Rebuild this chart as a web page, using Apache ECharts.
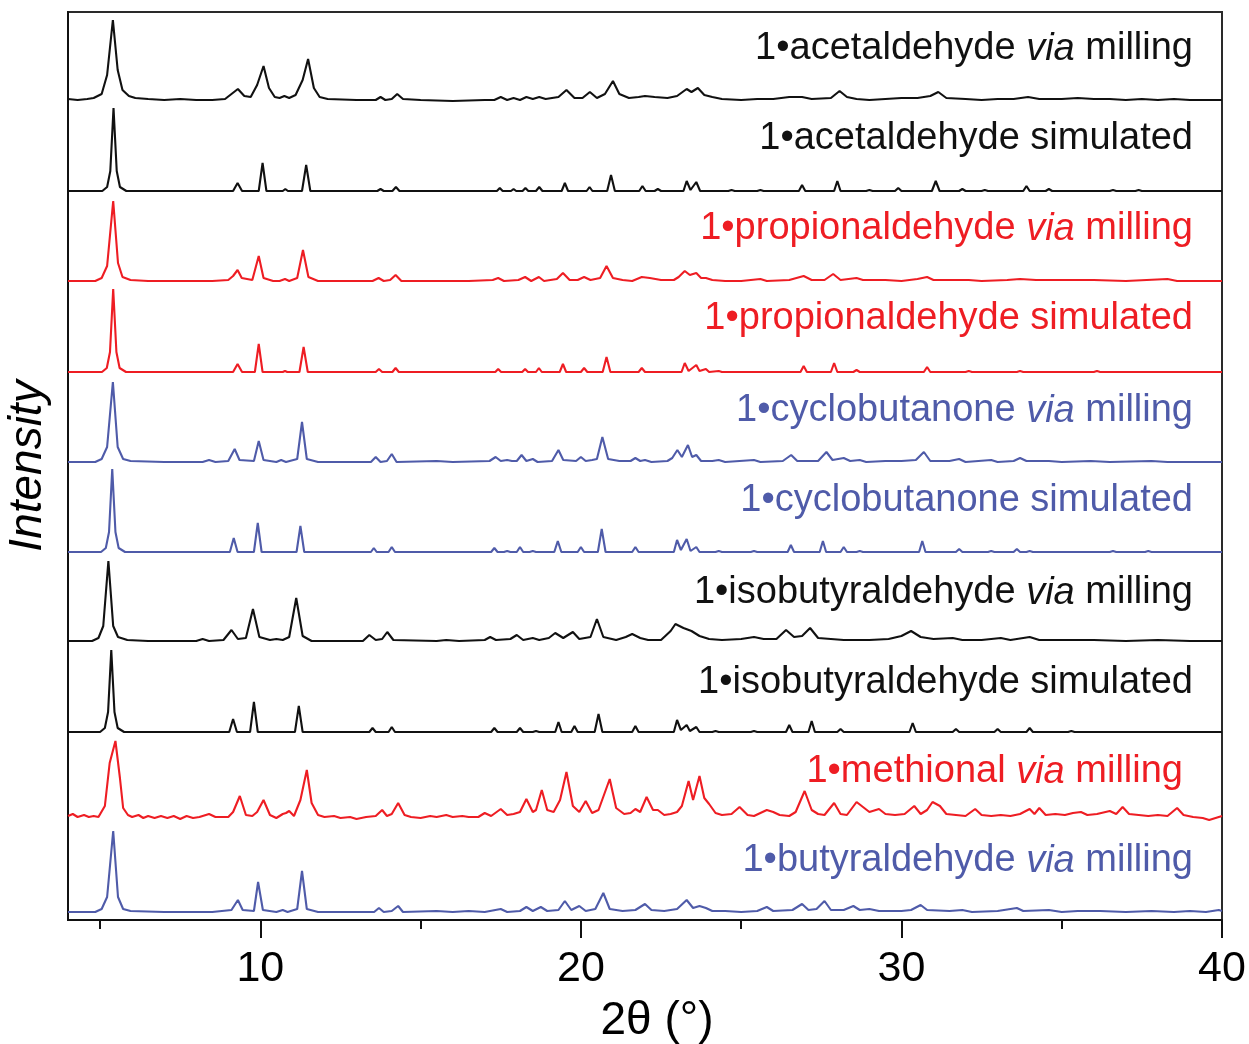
<!DOCTYPE html>
<html>
<head>
<meta charset="utf-8">
<script src="https://cdn.jsdelivr.net/npm/echarts@6/dist/echarts.min.js"></script>
<style>
  html, body { margin: 0; padding: 0; background: #fff; }
  #chart { width: 1249px; height: 1044px; }
</style>
</head>
<body>
<div id="chart"></div>
<script>
// Powder XRD patterns, 2θ in degrees vs. intensity (a.u.), stacked top to bottom.

const xTicks = [10, 20, 30, 40];
const xMinorTicks = [5, 15, 25, 35];

const names = [
  ['1•acetaldehyde ', 'via', ' milling'],
  ['1•acetaldehyde simulated'],
  ['1•propionaldehyde ', 'via', ' milling'],
  ['1•propionaldehyde simulated'],
  ['1•cyclobutanone ', 'via', ' milling'],
  ['1•cyclobutanone simulated'],
  ['1•isobutyraldehyde ', 'via', ' milling'],
  ['1•isobutyraldehyde simulated'],
  ['1•methional ', 'via', ' milling'],
  ['1•butyraldehyde ', 'via', ' milling']
];

const colors = ['#111111', '#111111', '#EE1D23', '#EE1D23', '#4F5BA9', '#4F5BA9',
  '#111111', '#111111', '#EE1D23', '#4F5BA9'];

// vertical stacking offset of each pattern
const offsets = [820, 729, 639, 548, 458, 368, 279, 188, 102, 8];

const acetaldehydeMilled = [[4,1],[4.3,0],[4.6,1],[4.8,2],[5.05,6],[5.22,25],[5.4,80],[5.55,30],[5.7,10],[5.9,4],[6.1,2],[6.5,1],[7.0,0],[7.5,1],[8.0,0],[8.5,0],[8.9,1],[9.1,6],[9.3,11],[9.5,4],[9.7,3],[9.9,15],[10.1,34],[10.27,12],[10.45,3],[10.6,2],[10.75,4],[10.9,2],[11.1,5],[11.32,20],[11.49,41],[11.67,12],[11.85,3],[12.1,1],[13,0],[13.6,0],[13.75,3],[13.9,0],[14.1,1],[14.27,6],[14.45,1],[15,0],[16,-1],[17,0],[17.3,0],[17.5,3],[17.7,0],[17.9,2],[18.1,0],[18.3,3],[18.5,1],[18.7,3],[18.9,1],[19.3,3],[19.55,10],[19.8,2],[20.05,2],[20.28,8],[20.5,2],[20.75,6],[21.0,19],[21.2,6],[21.5,2],[21.8,3],[22.0,4],[22.3,3],[22.7,2],[23.0,4],[23.3,11],[23.45,8],[23.65,12],[23.85,5],[24.1,3],[24.4,1],[25,0],[25.5,1],[26.0,1],[26.5,3],[26.9,3],[27.2,1],[27.8,2],[28.07,9],[28.3,3],[28.6,1],[29.0,0],[29.5,1],[30.0,2],[30.5,2],[30.9,4],[31.15,8],[31.4,2],[32,1],[32.5,0],[33,1],[33.5,1],[33.95,3],[34.3,1],[35,1],[35.5,2],[36,1],[36.5,1],[37,0],[37.5,1],[38,0],[38.5,1],[39,0],[39.5,0],[40,0]];

const acetaldehydeSim = [[4,0],[5.07,0],[5.22,4],[5.32,20],[5.42,83],[5.52,20],[5.62,4],[5.82,0],[9.15,0],[9.29,8],[9.43,0],[9.95,0],[10.07,28],[10.19,0],[10.7,0],[10.78,2],[10.86,0],[11.3,0],[11.43,26],[11.56,0],[13.65,0],[13.75,2],[13.85,0],[14.12,0],[14.23,4],[14.34,0],[14.8,0],[14.85,1],[14.9,0],[17.38,0],[17.47,3],[17.56,0],[17.82,0],[17.9,2],[17.98,0],[18.18,0],[18.27,3],[18.36,0],[18.6,0],[18.7,4],[18.8,0],[19.4,0],[19.5,8],[19.6,0],[20.18,0],[20.27,4],[20.36,0],[20.82,0],[20.94,16],[21.06,0],[21.82,0],[21.92,5],[22.02,0],[22.3,0],[22.4,2],[22.5,0],[23.2,0],[23.3,10],[23.42,1],[23.6,9],[23.72,0],[24.6,0],[24.7,1],[24.8,0],[25.5,0],[25.6,1],[25.7,0],[26.8,0],[26.9,6],[27.0,0],[27.9,0],[28.0,10],[28.1,0],[28.9,0],[29.0,1],[29.1,0],[29.8,0],[29.9,3],[30.0,0],[30.95,0],[31.07,10],[31.19,0],[31.8,0],[31.9,2],[32.0,0],[32.5,0],[32.6,1],[32.7,0],[33.8,0],[33.9,5],[34.0,0],[34.5,0],[34.6,2],[34.7,0],[36.5,0],[36.6,1],[36.7,0],[37.3,0],[37.4,1],[37.5,0],[40,0]];

const propionaldehydeMilled = [[4,0],[4.85,0],[5.05,3],[5.22,15],[5.41,80],[5.56,18],[5.7,4],[5.95,1],[6.5,0],[7.5,0],[8.5,0],[9.0,1],[9.15,5],[9.29,11],[9.42,3],[9.75,1],[9.95,25],[10.1,3],[10.4,0],[10.6,0],[10.77,2],[10.9,0],[11.15,3],[11.33,31],[11.5,4],[11.8,0],[13.5,0],[13.69,3],[13.85,0],[14.05,1],[14.22,6],[14.4,0],[15.5,0],[16.5,0],[17.25,1],[17.42,3],[17.6,0],[18.05,1],[18.26,4],[18.45,0],[18.69,4],[18.85,0],[19.25,2],[19.44,8],[19.65,1],[19.9,1],[20.1,4],[20.3,1],[20.6,3],[20.8,15],[21.0,3],[21.3,1],[21.6,0],[21.9,4],[22.15,3],[22.5,1],[22.9,1],[23.05,4],[23.24,10],[23.4,6],[23.6,8],[23.75,3],[23.9,3],[24.1,1],[24.5,0],[25,0],[25.6,2],[25.8,0],[26.5,1],[26.95,5],[27.2,1],[27.6,1],[27.87,7],[28.1,1],[28.6,3],[28.8,1],[29.5,1],[30,0],[30.5,2],[30.8,4],[31.0,1],[31.5,1],[32.1,1],[32.5,0],[33.3,1],[33.7,2],[34.2,1],[35,1],[36,1],[37,0],[38.3,2],[38.6,0],[39.5,0],[40,0]];

const propionaldehydeSim = [[4,0],[5.06,0],[5.21,4],[5.31,20],[5.41,83],[5.51,20],[5.61,4],[5.81,0],[9.15,0],[9.29,8],[9.43,0],[9.83,0],[9.95,28],[10.07,0],[10.7,0],[10.77,1],[10.84,0],[11.22,0],[11.35,25],[11.48,0],[13.6,0],[13.7,3],[13.8,0],[14.12,0],[14.22,4],[14.32,0],[17.33,0],[17.42,3],[17.51,0],[18.17,0],[18.26,3],[18.35,0],[18.6,0],[18.69,4],[18.78,0],[19.34,0],[19.44,8],[19.54,0],[20.0,0],[20.1,4],[20.2,0],[20.68,0],[20.8,15],[20.92,0],[21.8,0],[21.9,4],[22.0,0],[23.14,0],[23.24,9],[23.36,1],[23.6,7],[23.7,1],[23.9,3],[24.0,0],[24.3,1],[24.4,0],[26.85,0],[26.95,6],[27.05,0],[27.8,0],[27.9,9],[28.0,0],[28.5,0],[28.6,2],[28.7,0],[30.7,0],[30.8,5],[30.9,0],[32.0,0],[32.1,1],[32.2,0],[33.6,0],[33.7,1],[33.8,0],[36.0,0],[36.1,1],[36.2,0],[40,0]];

const cyclobutanoneMilled = [[4,0],[4.85,0],[5.05,3],[5.22,15],[5.4,80],[5.55,15],[5.72,3],[5.95,1],[7,0],[8.2,0],[8.4,2],[8.6,0],[9.0,1],[9.2,13],[9.35,2],[9.8,1],[9.95,21],[10.1,2],[10.5,0],[10.65,2],[10.8,0],[11.15,3],[11.3,40],[11.45,3],[11.8,0],[13.45,0],[13.6,5],[13.75,0],[13.95,1],[14.1,8],[14.25,0],[15.5,1],[16,0],[17.15,1],[17.34,5],[17.5,1],[17.7,2],[17.85,1],[18.0,1],[18.15,7],[18.3,1],[18.5,3],[18.65,0],[19.1,1],[19.3,12],[19.45,2],[19.85,1],[20.0,5],[20.15,1],[20.35,2],[20.5,3],[20.67,25],[20.85,3],[21.2,1],[21.55,1],[21.7,4],[21.85,1],[22.0,2],[22.2,0],[22.7,1],[22.85,4],[23.01,12],[23.15,5],[23.34,17],[23.47,5],[23.6,7],[23.75,1],[24.1,1],[24.3,2],[24.5,0],[25.4,2],[25.6,0],[26.3,1],[26.56,7],[26.75,1],[27.4,1],[27.66,10],[27.85,2],[28.2,4],[28.4,1],[28.7,2],[28.9,0],[29.5,1],[30.0,1],[30.45,2],[30.7,10],[30.9,1],[31.5,1],[31.8,3],[32.0,0],[32.8,2],[33.0,0],[33.5,1],[33.7,4],[33.9,1],[34.6,1],[35,0],[35.9,1],[36.5,0],[37.8,1],[38.3,0],[39,0],[40,0]];

const cyclobutanoneSim = [[4,0],[5.03,0],[5.18,4],[5.28,20],[5.38,83],[5.48,20],[5.58,4],[5.78,0],[9.05,0],[9.17,14],[9.29,0],[9.8,0],[9.92,29],[10.04,0],[11.13,0],[11.25,26],[11.37,0],[13.45,0],[13.54,4],[13.63,0],[14.0,0],[14.1,5],[14.2,0],[17.2,0],[17.3,4],[17.4,0],[17.6,0],[17.7,1],[17.8,0],[18.0,0],[18.1,5],[18.2,0],[18.4,0],[18.5,1],[18.6,0],[19.17,0],[19.28,11],[19.39,0],[19.9,0],[20.0,5],[20.1,0],[20.53,0],[20.65,23],[20.77,0],[21.6,0],[21.7,5],[21.8,0],[22.9,0],[23.0,12],[23.12,2],[23.3,13],[23.42,1],[23.6,5],[23.7,0],[24.2,0],[24.3,1],[24.4,0],[25.3,0],[25.4,1],[25.5,0],[26.45,0],[26.55,7],[26.65,0],[27.45,0],[27.55,11],[27.65,0],[28.1,0],[28.2,5],[28.3,0],[28.6,0],[28.7,1],[28.8,0],[30.55,0],[30.65,11],[30.75,0],[31.7,0],[31.8,3],[31.9,0],[32.7,0],[32.8,1],[32.9,0],[33.5,0],[33.6,3],[33.7,0],[33.9,0],[34.0,1],[34.1,0],[36.5,0],[36.6,1],[36.7,0],[37.6,0],[37.7,1],[37.8,0],[40,0]];

const isobutyraldehydeMilled = [[4,0],[4.75,0],[4.95,3],[5.1,15],[5.26,80],[5.41,15],[5.56,4],[5.85,1],[6.5,0],[7.5,0],[8.0,0],[8.2,2],[8.4,0],[8.85,1],[9.1,11],[9.3,2],[9.55,3],[9.77,32],[9.97,4],[10.3,1],[10.5,2],[10.7,1],[10.9,4],[11.12,43],[11.32,5],[11.6,0],[13.2,0],[13.4,6],[13.6,1],[13.8,2],[13.96,9],[14.15,1],[15.5,0],[15.8,1],[16.2,0],[17.0,1],[17.17,4],[17.35,1],[17.8,2],[18.0,6],[18.2,1],[18.5,3],[18.7,1],[19.0,3],[19.2,8],[19.45,3],[19.75,9],[19.95,2],[20.3,4],[20.5,22],[20.7,4],[21.1,1],[21.4,4],[21.6,7],[21.85,3],[22.1,1],[22.5,1],[22.8,10],[22.95,17],[23.2,13],[23.45,10],[23.7,5],[24.0,2],[24.4,1],[25.0,2],[25.4,4],[25.7,2],[26.1,2],[26.4,11],[26.65,4],[26.9,5],[27.15,13],[27.4,3],[27.8,2],[28.2,1],[29.0,1],[29.6,2],[30.0,5],[30.3,10],[30.6,4],[31.0,2],[31.6,3],[31.9,1],[32.5,1],[33.1,3],[33.4,1],[34.0,4],[34.3,1],[35.0,1],[36.0,1],[37.0,0],[38.0,1],[39.0,0],[40,0]];

const isobutyraldehydeSim = [[4,0],[5.0,0],[5.15,4],[5.25,20],[5.35,82],[5.45,20],[5.55,4],[5.75,0],[9.03,0],[9.15,13],[9.27,0],[9.68,0],[9.8,30],[9.92,0],[11.08,0],[11.2,26],[11.32,0],[13.4,0],[13.5,4],[13.6,0],[14.0,0],[14.1,5],[14.2,0],[17.2,0],[17.3,4],[17.4,0],[18.0,0],[18.1,4],[18.2,0],[18.5,0],[18.6,1],[18.7,0],[19.2,0],[19.3,10],[19.4,0],[19.7,0],[19.8,6],[19.9,0],[20.43,0],[20.55,18],[20.67,0],[21.6,0],[21.7,6],[21.8,0],[22.9,0],[23.0,12],[23.12,2],[23.3,7],[23.4,1],[23.6,5],[23.7,0],[24.1,0],[24.2,1],[24.3,0],[25.3,0],[25.4,1],[25.5,0],[26.4,0],[26.5,7],[26.6,0],[27.1,0],[27.2,11],[27.3,0],[28.0,0],[28.1,3],[28.2,0],[30.25,0],[30.35,9],[30.45,0],[31.6,0],[31.7,3],[31.8,0],[32.9,0],[33.0,3],[33.1,0],[33.9,0],[34.0,4],[34.1,0],[35.2,0],[35.3,1],[35.4,0],[40,0]];

const methionalMilled = [[4,2],[4.15,4],[4.3,1],[4.5,3],[4.65,1],[4.8,2],[4.95,1],[5.15,12],[5.3,55],[5.48,77],[5.62,40],[5.72,10],[5.87,3],[6.0,1],[6.2,3],[6.35,0],[6.5,2],[6.7,0],[6.9,2],[7.1,0],[7.3,2],[7.5,-1],[7.7,2],[7.9,0],[8.1,1],[8.4,4],[8.6,1],[8.8,1],[9.0,1],[9.15,6],[9.36,22],[9.55,3],[9.75,2],[9.9,6],[10.1,18],[10.3,3],[10.5,0],[10.7,4],[10.8,5],[10.9,7],[11.05,2],[11.25,18],[11.45,48],[11.6,15],[11.8,3],[12.0,1],[12.3,2],[12.5,0],[12.8,1],[13.0,-1],[13.3,1],[13.6,2],[13.8,8],[13.95,2],[14.1,4],[14.3,15],[14.5,3],[14.7,1],[15.0,0],[15.3,2],[15.5,1],[15.8,3],[16.0,1],[16.3,2],[16.5,1],[16.8,1],[17.0,5],[17.2,2],[17.5,9],[17.7,3],[17.9,4],[18.1,6],[18.3,19],[18.5,6],[18.6,8],[18.78,28],[18.95,8],[19.15,6],[19.35,18],[19.55,46],[19.75,12],[19.95,6],[20.15,17],[20.35,5],[20.55,8],[20.9,39],[21.1,10],[21.35,4],[21.55,5],[21.7,9],[21.85,6],[22.05,21],[22.25,8],[22.4,8],[22.6,3],[22.8,4],[23.0,6],[23.15,12],[23.36,37],[23.5,18],[23.7,42],[23.85,20],[24.0,14],[24.2,5],[24.4,3],[24.7,4],[24.95,11],[25.2,3],[25.4,2],[25.6,5],[25.8,8],[26.0,6],[26.2,3],[26.5,2],[26.7,6],[26.98,27],[27.2,8],[27.4,4],[27.6,3],[27.9,15],[28.1,4],[28.3,3],[28.6,16],[28.8,11],[29.0,6],[29.3,9],[29.5,4],[29.8,3],[30.1,4],[30.4,12],[30.6,4],[30.8,8],[30.97,16],[31.2,12],[31.4,4],[31.7,3],[32.0,2],[32.3,9],[32.5,3],[32.8,2],[33.1,3],[33.4,2],[33.7,4],[34.0,9],[34.15,4],[34.3,10],[34.5,3],[34.8,4],[35.1,3],[35.35,5],[35.6,6],[35.8,3],[36.1,4],[36.5,7],[36.7,4],[36.9,11],[37.1,4],[37.4,3],[37.7,2],[38.0,3],[38.3,2],[38.6,10],[38.8,3],[39.1,1],[39.4,0],[39.6,-2],[39.8,0],[40,2]];

const butyraldehydeMilled = [[4,0],[4.85,0],[5.05,3],[5.22,15],[5.41,81],[5.56,15],[5.72,3],[5.95,1],[7,0],[8.5,0],[9.1,2],[9.3,12],[9.45,2],[9.8,1],[9.93,30],[10.08,2],[10.5,0],[10.7,2],[10.85,0],[11.15,3],[11.3,41],[11.45,3],[11.8,0],[13.55,0],[13.7,4],[13.85,0],[14.1,1],[14.3,6],[14.45,0],[15.5,1],[16.0,0],[16.5,1],[17.0,0],[17.5,3],[17.7,0],[18.1,1],[18.3,5],[18.5,1],[18.75,5],[18.95,1],[19.3,2],[19.5,11],[19.7,2],[19.95,6],[20.15,1],[20.45,3],[20.7,19],[20.9,3],[21.3,1],[21.7,2],[22.0,8],[22.2,2],[22.6,1],[23.0,3],[23.3,12],[23.5,4],[23.7,6],[23.9,4],[24.1,1],[24.5,1],[25.0,0],[25.5,1],[25.8,5],[26.0,1],[26.6,2],[26.9,8],[27.1,2],[27.35,3],[27.6,11],[27.8,2],[28.2,2],[28.5,6],[28.7,2],[29.0,3],[29.3,1],[30.0,1],[30.3,2],[30.6,7],[30.8,2],[31.5,1],[31.9,2],[32.2,0],[33.0,1],[33.6,4],[33.8,1],[34.6,2],[35.0,0],[35.5,1],[36.2,1],[37.0,0],[37.8,1],[38.5,0],[39.0,1],[39.5,0],[39.9,2],[40,1]];

const patterns = [acetaldehydeMilled, acetaldehydeSim, propionaldehydeMilled, propionaldehydeSim,
  cyclobutanoneMilled, cyclobutanoneSim, isobutyraldehydeMilled, isobutyraldehydeSim,
  methionalMilled, butyraldehydeMilled];

// label anchor (right edge x, vertical centre y) for each pattern name
const labelPos = [[1193, 49], [1193, 139], [1193, 229], [1193, 319], [1193, 411],
  [1193, 501], [1193, 593], [1193, 683], [1183, 772], [1193, 861]];

const FONT = '"Liberation Sans", Arial, sans-serif';
const LABEL_SIZE = 38;

const chart = echarts.init(document.getElementById('chart'), null, { renderer: 'canvas' });

const series = patterns.map((pts, i) => ({
  type: 'line',
  xAxisIndex: 0,
  yAxisIndex: 0,
  data: pts.map(([x, y]) => [x, y + offsets[i]]),
  showSymbol: false,
  symbol: 'none',
  lineStyle: { color: colors[i], width: 2.1 },
  z: 3
}));

const labels = names.map((parts, i) => {
  let text;
  if (parts.length === 3) {
    text = '{n|' + parts[0] + '}{i|' + parts[1] + '}{n|' + parts[2] + '}';
  } else {
    text = '{n|' + parts[0] + '}';
  }
  return {
    type: 'text',
    x: labelPos[i][0],
    y: labelPos[i][1],
    z: 10,
    style: {
      text: text,
      align: 'right',
      verticalAlign: 'middle',
      fill: colors[i],
      font: LABEL_SIZE + 'px ' + FONT,
      rich: {
        n: { fontSize: LABEL_SIZE, fontFamily: FONT, fill: colors[i] },
        i: { fontSize: LABEL_SIZE, fontFamily: FONT, fontStyle: 'italic', fill: colors[i] }
      }
    }
  };
});

chart.setOption({
  animation: false,
  backgroundColor: '#ffffff',
  grid: {
    left: 68, right: 27, top: 12, bottom: 124,
    outerBoundsMode: 'none',
    containLabel: false,
    show: true, borderColor: '#2a2a2a', borderWidth: 2, backgroundColor: 'transparent'
  },
  xAxis: [
    {
      type: 'value', min: 4, max: 40,
      name: '2θ (°)', nameLocation: 'middle', nameGap: 78,
      nameTextStyle: { fontSize: 46, fontFamily: FONT, color: '#000', padding: [0, 0, 0, 24] },
      axisLine: { show: true, onZero: false, lineStyle: { color: '#111', width: 2 } },
      axisTick: { show: true, inside: false, length: 18, customValues: xTicks, lineStyle: { color: '#111', width: 2 } },
      axisLabel: { show: true, customValues: xTicks, margin: 28, fontSize: 43, fontFamily: FONT, color: '#000' },
      splitLine: { show: false }
    },
    {
      type: 'value', min: 4, max: 40, position: 'bottom',
      axisLine: { show: false },
      axisTick: { show: true, inside: false, length: 9, customValues: xMinorTicks, lineStyle: { color: '#111', width: 2 } },
      axisLabel: { show: false },
      splitLine: { show: false }
    }
  ],
  yAxis: {
    type: 'value', min: 0, max: 908,
    name: 'Intensity', nameLocation: 'middle', nameGap: 17,
    nameTextStyle: { fontSize: 46, fontFamily: FONT, fontStyle: 'italic', color: '#000' },
    axisLine: { show: true, lineStyle: { color: '#111', width: 2 } },
    axisTick: { show: false },
    axisLabel: { show: false },
    splitLine: { show: false }
  },
  series: series,
  graphic: labels
});
</script>
</body>
</html>
